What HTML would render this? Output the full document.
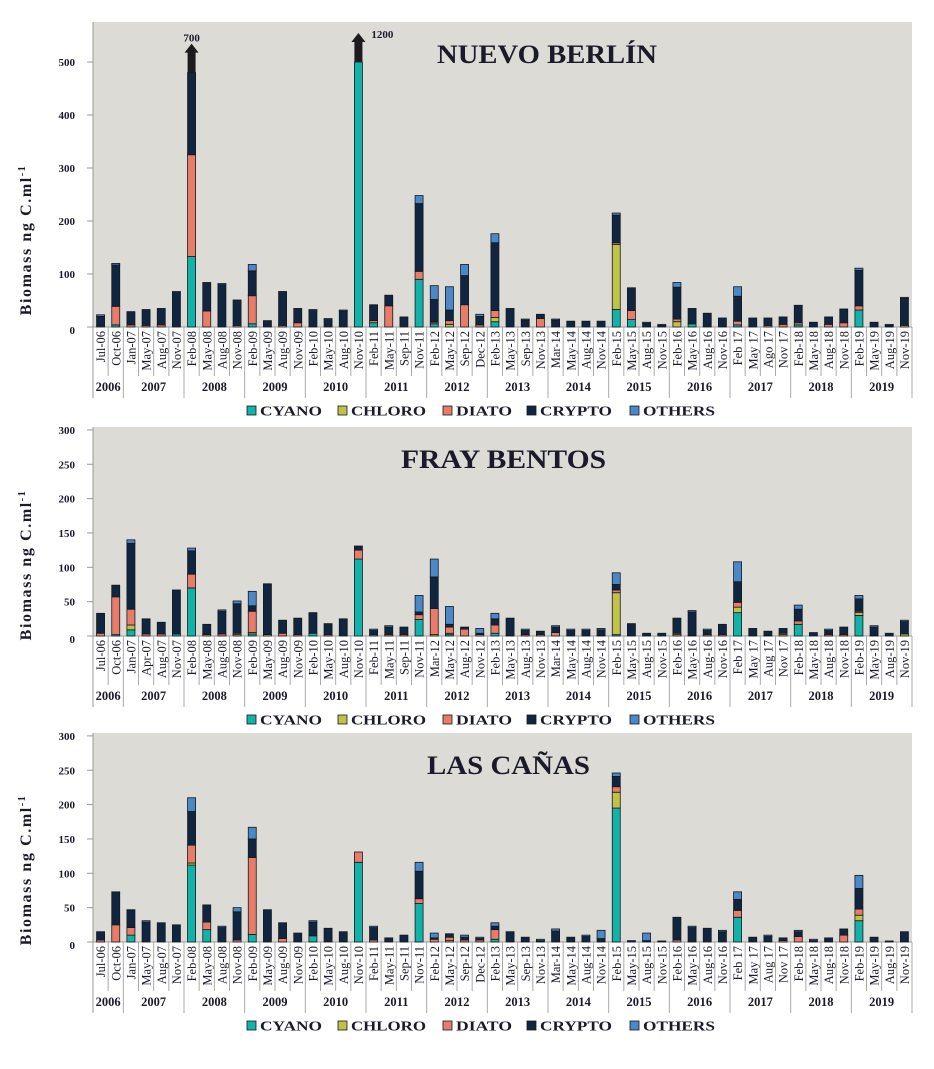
<!DOCTYPE html>
<html><head><meta charset="utf-8"><style>
html,body{margin:0;padding:0;background:#fff;}
svg{display:block;font-family:"Liberation Serif",serif;}
</style></head><body>
<svg id="chart" width="934" height="1069" viewBox="0 0 934 1069" xmlns="http://www.w3.org/2000/svg"></svg>
<script>
const cats1 = ["Jul-06","Oct-06","Jan-07","May-07","Aug-07","Nov-07","Feb-08","May-08","Aug-08","Nov-08","Feb-09","May-09","Aug-09","Nov-09","Feb-10","May-10","Aug-10","Nov-10","Feb-11","May-11","Sep-11","Nov-11","Feb-12","May-12","Sep-12","Dec-12","Feb-13","May-13","Sep-13","Nov-13","Mar-14","May-14","Aug-14","Nov-14","Feb-15","May-15","Aug-15","Nov-15","Feb-16","May-16","Aug-16","Nov-16","Feb 17","May 17","Ago 17","Nov 17","Feb-18","May-18","Aug-18","Nov-18","Feb-19","May-19","Aug-19","Nov-19"];
const cyano1 = [0,4,0,0,0,0,133,0,0,0, 6,0,0,0,0,0,0,1200,8,0, 0,90,6,0,0,0,10,0,0,0, 0,0,0,0,33,14,0,0,0,6, 0,0,4,0,0,0,4,0,0,0, 32,0,0,0];
const chloro1 = [0,0,0,0,0,0,0,0,0,0, 0,0,0,0,0,0,0,0,0,0, 0,0,0,5,0,0,8,0,0,0, 0,0,0,0,123,0,0,0,10,0, 0,0,0,0,0,0,0,0,0,0, 0,0,0,3];
const diato1 = [2,35,4,3,4,0,192,30,0,3, 53,0,3,8,0,0,0,0,4,40, 0,15,3,7,42,4,13,0,0,16, 0,0,0,0,3,17,0,0,5,0, 0,0,7,0,3,5,4,0,5,8, 8,0,0,0];
const crypto1 = [18,78,25,30,31,65,375,54,80,48, 47,12,64,27,31,14,30,0,30,20, 19,128,43,20,55,16,128,35,13,8, 13,11,11,11,52,43,7,3,60,29, 26,17,47,17,14,14,33,9,14,26, 67,9,3,51];
const others1 = [3,3,0,0,0,2,0,0,2,0, 12,0,0,0,2,2,2,0,0,0, 0,15,26,44,21,4,17,0,2,0, 2,0,0,0,4,0,2,2,9,0, 0,0,18,0,0,0,0,0,0,0, 4,0,2,2];
const breakCats1 = ["Feb-08","Nov-10"];
const breakCaps1 = [480,500];
const breakLabels1 = ["700","1200"];

const cats2 = ["Jul-06","Oct-06","Jan-07","Apr-07","Aug-07","Nov-07","Feb-08","May-08","Aug-08","Nov-08","Feb-09","May-09","Aug-09","Nov-09","Feb-10","May-10","Aug-10","Nov-10","Feb-11","May-11","Sep-11","Nov-11","Mar-12","May-12","Aug-12","Nov-12","Feb-13","May-13","Aug-13","Nov-13","Mar-14","May-14","Aug-14","Nov-14","Feb-15","May-15","Aug-15","Nov-15","Feb-16","May-16","Aug-16","Nov-16","Feb 17","May 17","Aug 17","Nov 17","Feb-18","May-18","Aug-18","Nov-18","Feb-19","May-19","Aug-19","Nov-19"];
const cyano2 = [0,2,9,0,0,3,70,0,0,0, 3,0,0,0,4,0,0,112,2,0, 0,24,0,2,0,0,4,1,0,0, 0,0,0,0,2,0,0,0,0,1, 0,0,34,0,1,0,17,0,0,0, 30,1,0,0];
const chloro2 = [0,0,7,0,0,0,0,2,0,2, 2,2,0,0,0,0,0,0,0,0, 0,0,2,2,0,2,0,0,0,0, 0,0,0,0,61,0,0,0,2,0, 0,0,8,0,0,2,0,0,0,0, 4,0,0,3];
const diato2 = [4,55,23,3,3,0,20,0,3,2, 31,0,4,2,0,2,0,13,0,2, 2,7,38,9,10,0,12,0,2,2, 5,0,0,1,4,0,0,0,2,0, 2,2,7,0,0,2,5,0,2,2, 2,0,0,0];
const crypto2 = [29,17,96,22,17,64,34,15,33,43, 8,74,19,24,30,16,25,6,6,11, 11,4,46,4,3,2,9,25,6,5, 8,8,8,8,8,18,4,4,22,34, 6,15,30,11,6,7,17,5,6,11, 18,12,4,18];
const others2 = [0,0,5,0,0,0,4,0,2,4, 21,0,0,0,0,0,0,0,2,2, 0,24,26,26,0,7,8,0,2,0, 2,2,2,2,17,0,0,0,0,2, 2,0,29,0,0,0,6,0,2,0, 5,2,0,2];

const cats3 = ["Jul-06","Oct-06","Jan-07","May-07","Aug-07","Nov-07","Feb-08","May-08","Aug-08","Nov-08","Feb-09","May-09","Aug-09","Nov-09","Feb-10","May-10","Aug-10","Nov-10","Feb-11","May-11","Sep-11","Nov-11","Feb-12","May-12","Sep-12","Dec-12","Feb-13","May-13","Sep-13","Nov-13","Mar-14","May-14","Aug-14","Nov-14","Feb-15","May-15","Aug-15","Nov-15","Feb-16","May-16","Aug-16","Nov-16","Feb 17","May 17","Aug 17","Nov 17","Feb-18","May-18","Aug-18","Nov-18","Feb-19","May-19","Aug-19","Nov-19"];
const cyano3 = [0,0,10,0,0,0,112,18,0,0, 11,0,0,0,9,0,0,116,0,0, 0,56,0,0,0,0,4,0,0,0, 0,0,0,0,195,0,0,0,0,0, 0,0,36,0,0,0,0,0,0,0, 31,0,0,0];
const chloro3 = [0,0,0,0,0,0,3,0,0,0, 0,0,0,0,0,0,0,0,0,0, 0,0,0,2,0,0,0,0,0,0, 0,0,0,0,23,0,0,0,0,0, 0,0,0,0,0,0,0,0,0,0, 8,0,0,0];
const diato3 = [3,25,11,0,0,0,26,11,0,3, 112,0,5,0,0,0,0,15,3,0, 0,7,4,5,3,3,14,0,0,0, 0,0,0,0,8,0,0,0,3,0, 0,0,10,0,0,2,8,0,0,10, 9,0,0,0];
const crypto3 = [12,48,26,29,28,25,49,25,21,41, 27,47,23,13,20,20,15,0,18,6, 10,40,2,5,4,2,5,15,7,2, 16,7,8,5,15,2,2,1.5,33,21, 20,15,16,7,8,4,7,2,6,9, 30,7,1.5,15];
const others3 = [0,0,0,2,0,0,20,0,2,6, 17,0,0,0,2,0,0,0,2,0, 0,13,7,0,3,2,5,0,0,2, 3,0,2,12,5,0,11,0,0,2, 0,2,11,0,2,0,2,2,0,0, 19,0,0,0];

const years = ["2006","2007","2008","2009","2010","2011","2012","2013","2014","2015","2016","2017","2018","2019"];
const yearCounts = [2,4,4,4,4,4,4,4,4,4,4,4,4,4];
const ticks1 = [0,100,200,300,400,500];
const ticks23 = [0,50,100,150,200,250,300];
const seriesNames = ["CYANO","CHLORO","DIATO","CRYPTO","OTHERS"];
const colors = ["#12b2a8","#bfc246","#e77c69","#0f2540","#4a88c8"];

const NS = "http://www.w3.org/2000/svg";
const svg = document.getElementById("chart");
function mk(tag, attrs, parent){ const e=document.createElementNS(NS,tag); for(const k in attrs) e.setAttribute(k,attrs[k]); (parent||svg).appendChild(e); return e; }

const X0=93, X1=912;
function drawPanel(p){
  const g = mk("g",{});
  
  
  const n = p.cats.length, step=(X1-X0)/n;
  const yS = v => p.base - v*p.pxPer;
  const xC = i => X0 + (i+0.5)*step;
  const bg = mk("rect",{x:X0,y:p.top,width:X1-X0,height:p.base-p.top,fill:"#dcdbd6"},g);
  
  
  mk("line",{x1:X0,y1:p.top,x2:X0,y2:p.base+71,stroke:"#999","stroke-width":1},g);
  mk("line",{x1:X0,y1:p.base,x2:X1,y2:p.base,stroke:"#999","stroke-width":1},g);
  p.ticks.forEach(t=>{
    const y=yS(t);
    mk("line",{x1:X0-6,y1:y,x2:X0,y2:y,stroke:"#999"},g);
    const tx=mk("text",{x:X0-18,y:(t===0?y+7:y+4),"text-anchor":"end","font-size":11,"font-weight":"bold",fill:"#1a1a2a"},g);
    tx.textContent=t;
    
    
  });
  const yt=mk("text",{x:0,y:0,transform:`translate(31,${p.ytY}) rotate(-90)`,"text-anchor":"middle","font-size":16,"font-weight":"bold",fill:"#1a1a2a","letter-spacing":"1.6"},g);
  yt.innerHTML='Biomass ng C.ml<tspan font-size="10" dy="-6">-1</tspan>';
  
  
  const tt=mk("text",{x:p.titleX,y:p.top+41,"font-size":26,"font-weight":"bold",fill:"#1a1a2a",textLength:p.titleW,lengthAdjust:"spacingAndGlyphs"},g);
  tt.textContent=p.title;
  
  
  const series=[p.cyano,p.chloro,p.diato,p.crypto,p.others];
  const bw=8;
  for(let i=0;i<n;i++){
    const bi = p.breakCats ? p.breakCats.indexOf(p.cats[i]) : -1;
    const cap = bi>=0 ? p.breakCaps[bi] : Infinity;
    let acc=0;
    for(let s=0;s<5;s++){
      const v=series[s][i]; if(!v) continue;
      const a=Math.min(acc,cap), b=Math.min(acc+v,cap); acc+=v;
      if(b<=a) continue;
      const r=mk("rect",{x:xC(i)-bw/2,y:yS(b),width:bw,height:yS(a)-yS(b),fill:colors[s],stroke:"#15181f","stroke-width":0.8},g);
      
      
    }
    if(bi>=0){
      const yT=yS(cap), x=xC(i);
      const sh=mk("rect",{x:x-4,y:yT-21,width:8,height:21,fill:"#1c1c1c"},g);
      
      
      const hd=mk("polygon",{points:`${x-7},${yT-20} ${x+7},${yT-20} ${x},${yT-29}`,fill:"#1c1c1c"},g);
      
      
      const lb=mk("text",{x: bi===0 ? x : x+13, y: bi===0 ? yT-31 : yT-24,"text-anchor": bi===0?"middle":"start","font-size":11,"font-weight":"bold",fill:"#1a1a2a"},g);
      lb.textContent=p.breakLabels[bi];
      
      
    }
  }
  for(let i=0;i<n;i++){
    const x=xC(i);
    const t=mk("text",{x:0,y:0,transform:`translate(${x+4.5},${p.base+4}) rotate(-90)`,"text-anchor":"end","font-size":12.5,fill:"#1a1a2a"},g);
    t.textContent=p.cats[i];
    
    
    if(i>0) mk("line",{x1:X0+i*step,y1:p.base,x2:X0+i*step,y2:p.base+49,stroke:"#aaa","stroke-width":1},g);
  }
  mk("line",{x1:X1,y1:p.base,x2:X1,y2:p.base+71,stroke:"#aaa"},g);
  let k=0;
  years.forEach((yr,j)=>{
    const c=yearCounts[j];
    const xa=X0+k*step, xb=X0+(k+c)*step;
    if(k>0) mk("line",{x1:xa,y1:p.base+49,x2:xa,y2:p.base+71,stroke:"#aaa"},g);
    const t=mk("text",{x:(xa+xb)/2,y:p.base+64,"text-anchor":"middle","font-size":12.5,"font-weight":"bold",fill:"#1a1a2a"},g);
    t.textContent=yr;
    
    
    k+=c;
  });
  const sqX=[247,338,443,527,630], txX=[260,351,456,540,643], txW=[62,75,56,72,72];
  const ly=p.base+79;
  seriesNames.forEach((nm,s)=>{
    const lg=mk("g",{},g);
    
    
    mk("rect",{x:sqX[s],y:ly,width:9,height:9,fill:colors[s],stroke:"#15181f","stroke-width":0.8},lg);
    const t=mk("text",{x:txX[s],y:ly+9.5,"font-size":14,"font-weight":"bold",fill:"#1a1a2a",textLength:txW[s],lengthAdjust:"spacingAndGlyphs"},lg);
    t.textContent=nm;
  });
}
drawPanel({name:"panel-nuevo-berlin",title:"NUEVO BERLÍN",titleX:437,titleW:220,ytY:240,top:22,base:327,pxPer:0.53,ticks:ticks1,cats:cats1,cyano:cyano1,chloro:chloro1,diato:diato1,crypto:crypto1,others:others1,breakCats:breakCats1,breakCaps:breakCaps1,breakLabels:breakLabels1});
drawPanel({name:"panel-fray-bentos",title:"FRAY BENTOS",titleX:401,titleW:205,ytY:565,top:427,base:636,pxPer:0.687,ticks:ticks23,cats:cats2,cyano:cyano2,chloro:chloro2,diato:diato2,crypto:crypto2,others:others2});
drawPanel({name:"panel-las-canas",title:"LAS CAÑAS",titleX:427,titleW:163,ytY:870,top:733,base:942,pxPer:0.687,ticks:ticks23,cats:cats3,cyano:cyano3,chloro:chloro3,diato:diato3,crypto:crypto3,others:others3});
</script>
</body></html>
